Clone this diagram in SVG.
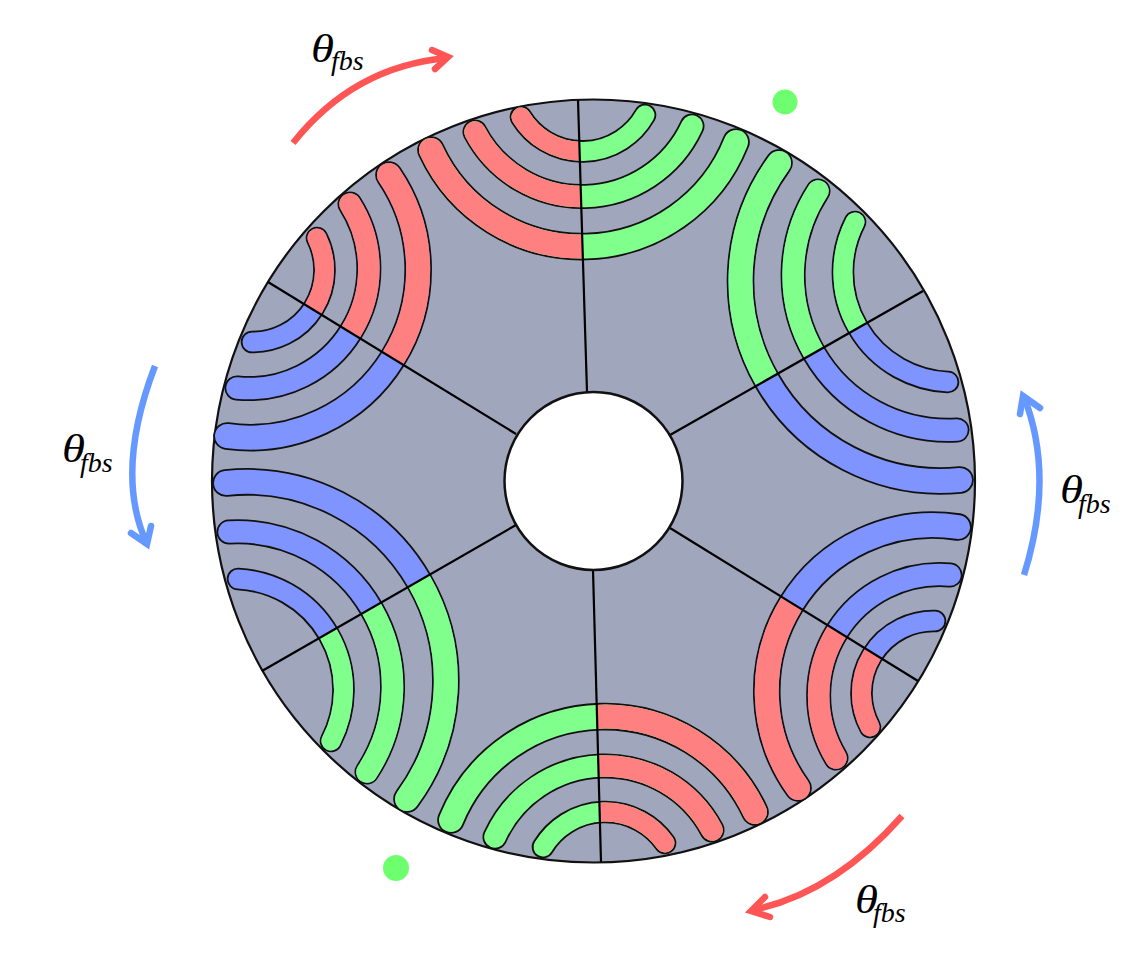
<svg xmlns="http://www.w3.org/2000/svg" width="1145" height="978" viewBox="0 0 1145 978">
<style>
.k{fill:none;stroke:#111;stroke-linecap:round}
.c{fill:none;stroke-linecap:round}
.r{stroke:#ff8080}.g{stroke:#80ff8c}.b{stroke:#8094ff}
.k .w1{stroke-width:27.6}.k .w2{stroke-width:25}.k .w3{stroke-width:22.6}
.c .w1{stroke-width:24}.c .w2{stroke-width:21.5}.c .w3{stroke-width:19}
.sp{stroke:#000;stroke-width:2.2;fill:none}
.ar{fill:none;stroke-width:6.5;stroke-linejoin:miter}
.hd{stroke-linecap:round}
.red{stroke:#ff5555}.blue{stroke:#6699ff}
.t{font-family:"Liberation Serif","Times New Roman",serif;font-style:italic;font-size:40px;fill:#000}
.s{font-size:28px}
</style>
<defs>
<clipPath id="cT"><polygon points="577,60 587,392 300,392 300,60"/></clipPath>
<clipPath id="cUL"><polygon points="240,265 516,434 516,100 240,100"/></clipPath>
<clipPath id="cUR"><polygon points="960,270 670,435 670,100 960,100"/></clipPath>
<clipPath id="cLR"><polygon points="950,701 670,528 670,850 950,850"/></clipPath>
<clipPath id="cB"><polygon points="602,900 593,570 800,570 800,900"/></clipPath>
<clipPath id="cLL"><polygon points="230,689 516,525 516,850 230,850"/></clipPath>
<path id="t1" d="M736,142A166,166 0 0 1 431,150"/>
<path id="t2" d="M692,126A121,121 0 0 1 475,132"/>
<path id="t3" d="M645,115A72,72 0 0 1 521,117"/>
<path id="ul1" d="M389,175A168,168 0 0 1 227,436"/>
<path id="ul2" d="M350,204A120,120 0 0 1 237,388"/>
<path id="ul3" d="M317,238A72,72 0 0 1 252,342"/>
<path id="ur1" d="M960,480A200,200 0 0 1 779,163"/>
<path id="ur2" d="M957,430A155,155 0 0 1 818,191"/>
<path id="ur3" d="M948,382A110,110 0 0 1 855,222"/>
<path id="lr1" d="M798,788A166,166 0 0 1 958,527"/>
<path id="lr2" d="M836,758A121,121 0 0 1 950,575"/>
<path id="lr3" d="M870,727A72,72 0 0 1 935,621"/>
<path id="b1" d="M451,820A166,166 0 0 1 755,812"/>
<path id="b2" d="M495,837A121,121 0 0 1 712,830"/>
<path id="b3" d="M543,847A73,73 0 0 1 665,843"/>
<path id="ll1" d="M226,483A199,199 0 0 1 407,799"/>
<path id="ll2" d="M229,532A155,155 0 0 1 367,772"/>
<path id="ll3" d="M238,579A111,111 0 0 1 331,741"/>
</defs>

<circle id="disc" cx="593.5" cy="481" r="381.5" fill="#a0a6bc" stroke="#111" stroke-width="2.2"/>

<g id="slots-top">
<g class="k"><use href="#t1" class="w1"/><use href="#t2" class="w2"/><use href="#t3" class="w3"/></g>
<g class="c g"><use href="#t1" class="w1"/><use href="#t2" class="w2"/><use href="#t3" class="w3"/></g>
<g class="c r" clip-path="url(#cT)"><use href="#t1" class="w1"/><use href="#t2" class="w2"/><use href="#t3" class="w3"/></g>
</g>
<g id="slots-upper-left">
<g class="k"><use href="#ul1" class="w1"/><use href="#ul2" class="w2"/><use href="#ul3" class="w3"/></g>
<g class="c b"><use href="#ul1" class="w1"/><use href="#ul2" class="w2"/><use href="#ul3" class="w3"/></g>
<g class="c r" clip-path="url(#cUL)"><use href="#ul1" class="w1"/><use href="#ul2" class="w2"/><use href="#ul3" class="w3"/></g>
</g>
<g id="slots-upper-right">
<g class="k"><use href="#ur1" class="w1"/><use href="#ur2" class="w2"/><use href="#ur3" class="w3"/></g>
<g class="c b"><use href="#ur1" class="w1"/><use href="#ur2" class="w2"/><use href="#ur3" class="w3"/></g>
<g class="c g" clip-path="url(#cUR)"><use href="#ur1" class="w1"/><use href="#ur2" class="w2"/><use href="#ur3" class="w3"/></g>
</g>
<g id="slots-lower-right">
<g class="k"><use href="#lr1" class="w1"/><use href="#lr2" class="w2"/><use href="#lr3" class="w3"/></g>
<g class="c b"><use href="#lr1" class="w1"/><use href="#lr2" class="w2"/><use href="#lr3" class="w3"/></g>
<g class="c r" clip-path="url(#cLR)"><use href="#lr1" class="w1"/><use href="#lr2" class="w2"/><use href="#lr3" class="w3"/></g>
</g>
<g id="slots-bottom">
<g class="k"><use href="#b1" class="w1"/><use href="#b2" class="w2"/><use href="#b3" class="w3"/></g>
<g class="c g"><use href="#b1" class="w1"/><use href="#b2" class="w2"/><use href="#b3" class="w3"/></g>
<g class="c r" clip-path="url(#cB)"><use href="#b1" class="w1"/><use href="#b2" class="w2"/><use href="#b3" class="w3"/></g>
</g>
<g id="slots-lower-left">
<g class="k"><use href="#ll1" class="w1"/><use href="#ll2" class="w2"/><use href="#ll3" class="w3"/></g>
<g class="c b"><use href="#ll1" class="w1"/><use href="#ll2" class="w2"/><use href="#ll3" class="w3"/></g>
<g class="c g" clip-path="url(#cLL)"><use href="#ll1" class="w1"/><use href="#ll2" class="w2"/><use href="#ll3" class="w3"/></g>
</g>

<g id="spokes" class="sp">
<line x1="578" y1="100" x2="587" y2="392"/>
<line x1="923" y1="291" x2="670" y2="435"/>
<line x1="918" y1="681" x2="670" y2="528"/>
<line x1="601" y1="862" x2="593" y2="570"/>
<line x1="262" y1="671" x2="516" y2="525"/>
<line x1="268" y1="282" x2="516" y2="434"/>
</g>
<circle id="hole" cx="593.5" cy="481" r="89" fill="#fff" stroke="#111" stroke-width="2.5"/>

<circle id="dot-top" cx="785" cy="102" r="12.5" fill="#6eff6e"/>
<circle id="dot-bottom" cx="396" cy="868" r="13" fill="#6eff6e"/>

<g id="connectors">
<path class="ar red" d="M293,143Q354,66 448,58"/>
<polyline class="ar red hd" points="432,50 448,57 435,69"/>
<path class="ar blue" d="M155,366Q114,473 147,544"/>
<polyline class="ar blue hd" points="131,533 147,544 151,526"/>
<path class="ar blue" d="M1024,575Q1055,476 1024,397"/>
<polyline class="ar blue hd" points="1020,414 1023,396 1040,408"/>
<path class="ar red" d="M902,816Q834,893 753,910"/>
<polyline class="ar red hd" points="765,897 751,911 770,917"/>
</g>

<g id="labels">
<text class="t" x="311" y="62" textLength="23" lengthAdjust="spacingAndGlyphs">θ</text><text class="t s" x="331" y="70">fbs</text>
<text class="t" x="62" y="462" textLength="23" lengthAdjust="spacingAndGlyphs">θ</text><text class="t s" x="80" y="472">fbs</text>
<text class="t" x="1060" y="503" textLength="23" lengthAdjust="spacingAndGlyphs">θ</text><text class="t s" x="1078" y="513">fbs</text>
<text class="t" x="855" y="913" textLength="23" lengthAdjust="spacingAndGlyphs">θ</text><text class="t s" x="873" y="922">fbs</text>
</g>
</svg>
